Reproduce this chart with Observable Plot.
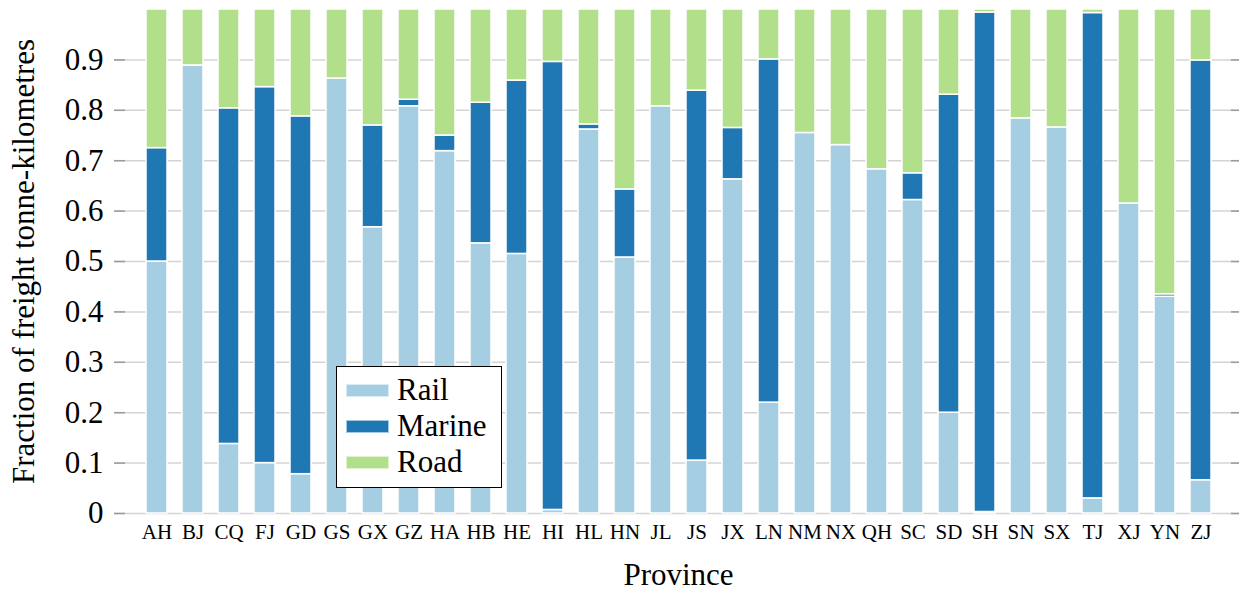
<!DOCTYPE html>
<html><head><meta charset="utf-8">
<script src="https://cdn.jsdelivr.net/npm/d3@7"></script>
<script src="https://cdn.jsdelivr.net/npm/@observablehq/plot@0.6"></script>
<style>
body{margin:0;background:#fff;}
#wrap{position:relative;width:1239px;height:590px;font-family:"Liberation Serif","Times New Roman",serif;color:#000;}
#legend{position:absolute;left:336px;top:366px;width:166px;height:122px;box-sizing:border-box;border:1px solid #000;background:#fff;padding:5px 0 0 9px;}
.row{display:flex;align-items:center;height:36px;font-size:31px;line-height:36px;}
.sw{width:43px;height:13px;margin-right:8px;box-sizing:border-box;border:1px solid rgba(255,255,255,0.6);}
</style>
</head><body>
<div id="wrap"></div>
<script>
const provinces = ["AH","BJ","CQ","FJ","GD","GS","GX","GZ","HA","HB","HE","HI","HL","HN","JL","JS","JX","LN","NM","NX","QH","SC","SD","SH","SN","SX","TJ","XJ","YN","ZJ"];
const rail   = [0.500,0.889,0.138,0.100,0.078,0.863,0.568,0.808,0.719,0.536,0.515,0.007,0.762,0.508,0.808,0.105,0.663,0.220,0.755,0.731,0.683,0.622,0.200,0.003,0.784,0.766,0.030,0.615,0.430,0.066];
const marine = [0.225,0.000,0.666,0.746,0.710,0.000,0.202,0.013,0.031,0.279,0.344,0.889,0.010,0.135,0.000,0.734,0.102,0.681,0.000,0.000,0.000,0.053,0.631,0.991,0.000,0.000,0.963,0.000,0.005,0.833];
const road   = [0.275,0.111,0.196,0.154,0.212,0.137,0.230,0.179,0.250,0.185,0.141,0.104,0.228,0.357,0.192,0.161,0.235,0.099,0.245,0.269,0.317,0.325,0.169,0.006,0.216,0.234,0.007,0.385,0.565,0.101];
const seriesNames = ["Rail","Marine","Road"];
const seriesColors = ["#a6cee3","#1f78b4","#b2df8a"];
const yTicks = [0,0.1,0.2,0.3,0.4,0.5,0.6,0.7,0.8,0.9];
const yTickLabels = ["0","0.1","0.2","0.3","0.4","0.5","0.6","0.7","0.8","0.9"];
const yLabel = "Fraction of freight tonne-kilometres";
const xLabel = "Province";

const seriesValues = [rail, marine, road];
const rows = [];
provinces.forEach((p, i) => {
  seriesNames.forEach((s, j) => {
    const v = seriesValues[j][i];
    if (v > 0) rows.push({province: p, mode: s, value: v});
  });
});

const font = '"Liberation Serif","Times New Roman",serif';
const chart = Plot.plot({
  width: 1239, height: 590,
  marginLeft: 114, marginRight: -3, marginTop: 9, marginBottom: 77,
  style: {fontFamily: font, background: "transparent", color: "#000", overflow: "visible"},
  x: {domain: provinces, paddingInner: 0.42, paddingOuter: 0.705},
  y: {domain: [0, 1]},
  color: {domain: seriesNames, range: seriesColors},
  marks: [
    Plot.ruleY(yTicks, {y: d => d, stroke: "#d4d4d4", strokeWidth: 1.5}),
    Plot.ruleY(yTicks, {y: d => d, stroke: "#9a9a9a", strokeWidth: 1.5, insetRight: 1117}),
    Plot.ruleY(yTicks, {y: d => d, stroke: "#9a9a9a", strokeWidth: 1.5, insetLeft: 1117}),
    Plot.barY(rows, {x: "province", y: "value", fill: "mode", stroke: "white", strokeWidth: 1.5, order: null}),
    Plot.axisY({ticks: yTicks, tickSize: 0, tickPadding: 11, fontSize: 31, label: null,
      tickFormat: d => yTickLabels[yTicks.indexOf(d)]}),
    Plot.axisX({tickSize: 0, tickPadding: 11, fontSize: 21, label: null}),
    Plot.text([yLabel], {text: d => d, frameAnchor: "left", rotate: -90, dx: -90, textAnchor: "middle", lineAnchor: "middle", fontSize: 31}),
    Plot.text([xLabel], {text: d => d, frameAnchor: "bottom", dy: 71, textAnchor: "middle", lineAnchor: "bottom", fontSize: 31})
  ]
});
const wrap = document.getElementById("wrap");
wrap.appendChild(chart);

const legend = document.createElement("div");
legend.id = "legend";
seriesNames.forEach((s, j) => {
  const row = document.createElement("div");
  row.className = "row";
  const sw = document.createElement("div");
  sw.className = "sw";
  sw.style.background = seriesColors[j];
  const t = document.createElement("span");
  t.textContent = s;
  row.appendChild(sw); row.appendChild(t);
  legend.appendChild(row);
});
wrap.appendChild(legend);
</script>
</body></html>
